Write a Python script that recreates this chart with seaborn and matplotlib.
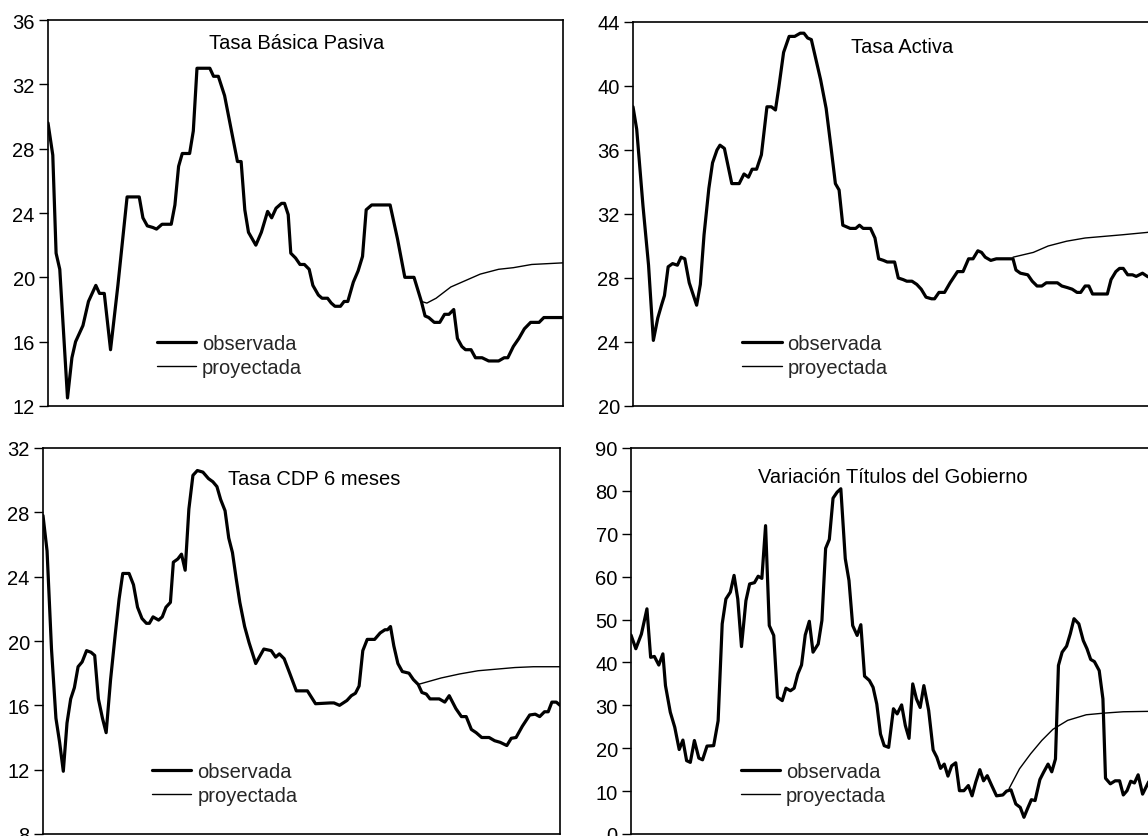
import matplotlib
matplotlib.use("Agg")
import matplotlib.pyplot as plt
import seaborn as sns
import pandas as pd

# month index (0..140) and value
pasiva_obs = [(0, 29.6), (1.3, 27.6), (2.2, 21.5), (3.2, 20.5), (5.3, 12.5), (6.5, 15.0), (7.5, 16.0),
              (9.5, 17.0), (11, 18.5), (13, 19.5), (14, 19.0), (15.3, 19.0), (17, 15.5), (19, 19.5),
              (21.5, 25.0), (24.8, 25.0), (25.8, 23.7), (27, 23.2), (28.5, 23.1), (29.5, 23.0), (31, 23.3),
              (33.5, 23.3), (34.5, 24.5), (35.5, 26.9), (36.5, 27.7), (38.5, 27.7), (39.5, 29.1), (40.5, 33.0),
              (44, 33.0), (45, 32.5), (46.3, 32.5), (48, 31.3), (51.5, 27.2), (52.5, 27.2), (53.5, 24.2),
              (54.5, 22.8), (56.5, 22.0), (58, 22.8), (59.7, 24.1), (60.8, 23.7), (62, 24.3), (63.5, 24.6),
              (64.3, 24.6), (65.3, 23.9), (66, 21.5), (67.3, 21.2), (68.5, 20.8), (69.7, 20.8), (71, 20.5),
              (72, 19.5), (73.5, 18.9), (74.5, 18.7), (76, 18.7), (77, 18.4), (78, 18.2), (79.5, 18.2),
              (80.5, 18.5), (81.5, 18.5), (83, 19.7), (84.3, 20.4), (85.5, 21.3), (86.5, 24.2), (88, 24.5),
              (93, 24.5), (95, 22.4), (97, 20.0), (99.5, 20.0), (101.5, 18.5), (102.5, 17.6), (103.5, 17.5),
              (105, 17.2), (106.5, 17.2), (107.8, 17.7), (109, 17.7), (110.3, 18.0), (111.3, 16.2),
              (112.5, 15.7), (113.5, 15.5), (115, 15.5), (116.2, 15.0), (118, 15.0), (119.8, 14.8),
              (122.5, 14.8), (124, 15.0), (125, 15.0), (126.5, 15.7), (128, 16.2), (129.5, 16.8),
              (131.2, 17.2), (133.5, 17.2), (134.8, 17.5), (140, 17.5)]
pasiva_proj = [(101.5, 18.5), (103, 18.4), (105.5, 18.7), (109.5, 19.4), (113.5, 19.8), (117.5, 20.2),
               (122.5, 20.5), (126.5, 20.6), (131.5, 20.8), (140, 20.9)]

activa_obs = [(0, 38.7), (1, 37.3), (2.7, 32.5), (4.2, 28.8), (5.5, 24.1), (6.7, 25.5), (7.7, 26.3),
              (8.5, 26.9), (9.5, 28.7), (10.7, 28.9), (12, 28.8), (13, 29.3), (14, 29.2), (15.2, 27.7),
              (17.2, 26.3), (18.2, 27.6), (19.2, 30.7), (20.5, 33.6), (21.5, 35.2), (22.7, 36.0), (23.5, 36.3),
              (24.7, 36.1), (25.7, 35.0), (26.7, 33.9), (28.7, 33.9), (30, 34.5), (31.2, 34.3), (32.2, 34.8),
              (33.4, 34.8), (34.7, 35.7), (36.2, 38.7), (37.4, 38.7), (38.5, 38.5), (39.4, 39.9), (40.7, 42.1),
              (42.2, 43.1), (43.7, 43.1), (45.2, 43.3), (46.2, 43.3), (47.2, 43.0), (48.2, 42.9), (49.4, 41.7),
              (50.7, 40.4), (52.2, 38.6), (53.5, 36.2), (54.7, 33.9), (55.7, 33.5), (56.7, 31.3), (57.7, 31.2),
              (58.7, 31.1), (60.2, 31.1), (61.2, 31.3), (62.2, 31.1), (64.2, 31.1), (65.4, 30.5), (66.4, 29.2),
              (67.7, 29.1), (68.7, 29.0), (70.7, 29.0), (71.7, 28.0), (73, 27.9), (74, 27.8), (75.4, 27.8),
              (76.7, 27.6), (77.9, 27.3), (79.2, 26.8), (80.7, 26.7), (81.5, 26.7), (82.7, 27.1), (84.2, 27.1),
              (85.7, 27.7), (87.7, 28.4), (89.2, 28.4), (90.7, 29.2), (91.9, 29.2), (93.2, 29.7), (94.2, 29.6),
              (95.2, 29.3), (96.7, 29.1), (98.2, 29.2), (102.7, 29.2), (103.5, 28.5), (104.7, 28.3),
              (106.7, 28.2), (107.9, 27.8), (109.2, 27.5), (110.5, 27.5), (111.7, 27.7), (114.7, 27.7),
              (115.9, 27.5), (117.4, 27.4), (118.7, 27.3), (120, 27.1), (121, 27.1), (122.2, 27.5),
              (123.2, 27.5), (124.2, 27.0), (128.2, 27.0), (129.2, 27.9), (130.5, 28.4), (131.5, 28.6),
              (132.5, 28.6), (133.7, 28.2), (135, 28.2), (136, 28.1), (137.7, 28.3), (139, 28.1), (140, 28.0)]
activa_proj = [(102.7, 29.3), (108.2, 29.6), (112.2, 30.0), (117.2, 30.3), (122.2, 30.5), (127.2, 30.6),
               (132.2, 30.7), (139, 30.85), (140, 30.9)]

cdp_obs = [(0, 27.8), (1.1, 25.6), (2.3, 19.5), (3.5, 15.2), (4.5, 13.7), (5.5, 11.9), (6.5, 14.9),
           (7.5, 16.4), (8.5, 17.1), (9.5, 18.4), (10.6, 18.7), (11.8, 19.4), (13, 19.3), (14, 19.1),
           (15, 16.4), (16.1, 15.2), (17.1, 14.3), (18.3, 17.6), (19.6, 20.5), (20.6, 22.6), (21.6, 24.2),
           (23.3, 24.2), (24.5, 23.5), (25.6, 22.1), (26.8, 21.4), (28, 21.1), (28.8, 21.1), (29.8, 21.5),
           (31.3, 21.3), (32.3, 21.5), (33.3, 22.1), (34.5, 22.4), (35.3, 24.9), (36.5, 25.1), (37.5, 25.4),
           (38.5, 24.4), (39.5, 28.2), (40.6, 30.3), (41.8, 30.6), (43.3, 30.5), (44.8, 30.1), (46, 29.9),
           (47.1, 29.6), (48.1, 28.8), (49.3, 28.1), (50.3, 26.4), (51.3, 25.5), (52.3, 23.9), (53.3, 22.4),
           (54.6, 20.9), (55.8, 19.9), (57.6, 18.6), (59.8, 19.5), (61.8, 19.4), (63, 19.0), (64, 19.2),
           (65.3, 18.9), (66.8, 18.0), (68.6, 16.9), (71.6, 16.9), (73.8, 16.1), (77.8, 16.15), (78.8, 16.15),
           (80.3, 16.0), (82.3, 16.3), (83.5, 16.6), (84.6, 16.75), (85.6, 17.2), (86.6, 19.4), (87.8, 20.1),
           (89.8, 20.1), (91.3, 20.5), (92.6, 20.7), (93.3, 20.7), (94.1, 20.9), (95, 19.7), (96.1, 18.6),
           (97.3, 18.1), (99.1, 18.0), (100.3, 17.6), (101.6, 17.3), (102.6, 16.8), (103.8, 16.7),
           (104.8, 16.4), (107.3, 16.4), (108.8, 16.2), (110, 16.6), (111.8, 15.8), (113.3, 15.3),
           (114.6, 15.3), (116, 14.5), (117.3, 14.3), (118.8, 14.0), (120.8, 14.0), (122.3, 13.8),
           (123.8, 13.7), (125.6, 13.5), (126.8, 13.95), (128.1, 14.0), (129.8, 14.7), (131.8, 15.4),
           (133.3, 15.45), (134.5, 15.3), (135.8, 15.6), (136.8, 15.6), (137.8, 16.2), (139, 16.2), (140, 16.0)]
cdp_proj = [(101.6, 17.3), (107.8, 17.7), (112.8, 17.95), (117.8, 18.15), (122.8, 18.25), (127.8, 18.35),
            (132.8, 18.4), (140, 18.4)]

titulos_obs = [(0, 46.4), (1.3, 43.2), (2.8, 46.6), (4.3, 52.5), (5.3, 41.2), (6.3, 41.4), (7.5, 39.4),
               (8.6, 42.0), (9.3, 34.6), (10.6, 28.4), (11.8, 24.9), (13, 19.7), (14, 21.9), (15, 17.1),
               (16, 16.7), (17.1, 21.8), (18.3, 17.7), (19.3, 17.3), (20.5, 20.5), (22.3, 20.6), (23.5, 26.4),
               (24.6, 49.0), (25.6, 54.8), (26.8, 56.4), (27.8, 60.3), (28.8, 54.8), (29.8, 43.7), (31, 54.4),
               (32, 58.3), (33.3, 58.6), (34.3, 60.1), (35.3, 59.6), (36.3, 71.9), (37.3, 48.6), (38.5, 46.3),
               (39.5, 31.9), (40.8, 31.1), (41.8, 34.0), (43, 33.4), (44, 34.0), (45, 37.3), (46, 39.4),
               (47, 46.4), (48.1, 49.6), (49.1, 42.4), (50.5, 44.3), (51.5, 49.8), (52.5, 66.6), (53.5, 68.7),
               (54.5, 78.3), (55.6, 79.7), (56.6, 80.5), (57.8, 64.2), (58.8, 59.1), (59.8, 48.6), (61, 46.3),
               (62, 48.8), (63, 36.8), (64.3, 35.8), (65.3, 34.2), (66.3, 30.3), (67.3, 23.3), (68.3, 20.6),
               (69.5, 20.2), (70.8, 29.2), (71.8, 28.0), (73, 30.1), (74, 25.3), (75, 22.3), (76, 35.0),
               (77, 31.5), (78, 29.5), (79, 34.6), (80.3, 28.8), (81.5, 19.6), (82.5, 17.9), (83.5, 15.3),
               (84.5, 16.3), (85.5, 13.5), (86.5, 15.9), (87.6, 16.6), (88.6, 10.1), (89.8, 10.1), (91, 11.3),
               (92, 8.9), (93, 12.1), (94.1, 15.0), (95.1, 12.4), (96.1, 13.6), (97.3, 11.3), (98.6, 8.9),
               (100.3, 9.1), (101.3, 10.0), (102.5, 10.3), (103.8, 7.0), (105, 6.2), (106, 3.9), (107, 6.0),
               (108, 8.0), (109, 7.8), (110.3, 12.7), (111.3, 14.4), (112.5, 16.3), (113.5, 14.5), (114.5, 17.5),
               (115.3, 39.3), (116.3, 42.4), (117.5, 43.8), (118.5, 46.7), (119.5, 50.2), (120.8, 49.0),
               (122, 45.1), (123, 43.2), (124, 40.7), (125, 40.2), (126.3, 38.1), (127.3, 31.5), (128, 13.0),
               (129.3, 11.7), (130.6, 12.4), (131.8, 12.4), (132.8, 9.1), (133.8, 10.1), (134.8, 12.3),
               (135.8, 11.9), (136.8, 13.8), (138, 9.3), (139.6, 12.1), (140, 12.5)]
titulos_proj = [(102, 10.6), (104.8, 15.2), (107.8, 18.7), (110.8, 21.8), (113.8, 24.4), (117.8, 26.5),
                (122.8, 27.8), (127.8, 28.2), (132.8, 28.5), (140, 28.6)]

titles = ["Tasa Básica Pasiva", "Tasa Activa", "Tasa CDP 6 meses", "Variación Títulos del Gobierno"]
y_ranges = [(12, 36, 4), (20, 44, 4), (8, 32, 4), (0, 90, 10)]

# axes boxes in figure fraction [left, bottom, width, height]
W, H = 1148, 837
boxes = [
    [48 / W, 1 - 407 / H, 515 / W, 386 / H],
    [633 / W, 1 - 407 / H, 518 / W, 384 / H],
    [43 / W, 1 - 835 / H, 517 / W, 386 / H],
    [631 / W, 1 - 835 / H, 519 / W, 386 / H],
]
title_pos = [(0.482, 0.943), (0.52, 0.937), (0.525, 0.92), (0.505, 0.925)]

sns.set_theme(style="white")
plt.rcParams["font.family"] = ["Liberation Sans", "DejaVu Sans"]
fs = 14.5

fig = plt.figure(figsize=(W / 100, H / 100), dpi=100)

panels = [(pasiva_obs, pasiva_proj), (activa_obs, activa_proj), (cdp_obs, cdp_proj), (titulos_obs, titulos_proj)]

for i, (obs, proj) in enumerate(panels):
    ax = fig.add_axes(boxes[i])
    df_obs = pd.DataFrame(obs, columns=["mes", "valor"])
    df_proj = pd.DataFrame(proj, columns=["mes", "valor"])
    sns.lineplot(data=df_obs, x="mes", y="valor", ax=ax, color="black", linewidth=2.3,
                 label="observada", estimator=None)
    sns.lineplot(data=df_proj, x="mes", y="valor", ax=ax, color="black", linewidth=1.0,
                 label="proyectada", estimator=None)
    lo, hi, step = y_ranges[i]
    ax.set_ylim(lo, hi)
    ax.set_yticks(range(lo, hi + 1, step))
    ax.set_xlim(0, 140)
    ax.set_xticks([])
    ax.set_xlabel("")
    ax.set_ylabel("")
    for s in ax.spines.values():
        s.set_visible(True)
        s.set_color("black")
        s.set_linewidth(1.2)
    ax.tick_params(axis="y", direction="out", length=6.5, width=1, color="black",
                   labelsize=fs, labelcolor="black", pad=3, left=True)
    ax.text(title_pos[i][0], title_pos[i][1], titles[i], transform=ax.transAxes,
            ha="center", va="center", fontsize=fs, color="black")
    ax.legend(loc="lower left", bbox_to_anchor=(0.211, 0.075), frameon=False, fontsize=fs,
              handlelength=1.95, handletextpad=0.3, labelspacing=0.25, borderpad=0, borderaxespad=0)

fig.savefig("out.png", dpi=100)
